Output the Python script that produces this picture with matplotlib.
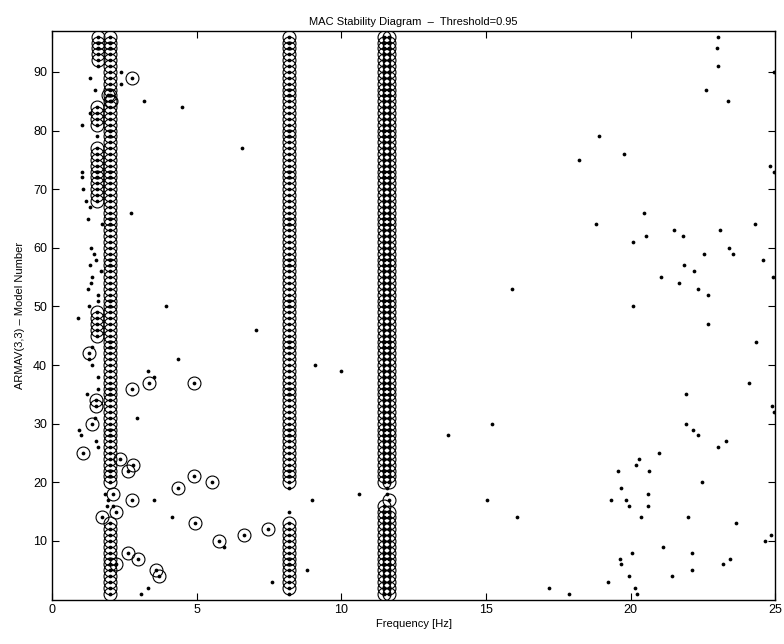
import matplotlib
matplotlib.use("Agg")
import matplotlib.pyplot as plt

plt.rcParams['font.family'] = ['Liberation Sans', 'DejaVu Sans']

# ---- data: poles that did not meet the MAC threshold (dot only) ----
unstable_freq = [
    2.40, 1.31, 2.39, 1.48, 3.18, 4.50, 1.31, 1.05, 1.55, 6.56, 1.04, 1.04, 1.06, 1.17,
    1.30, 2.73, 1.25, 1.73, 1.34, 1.44, 1.52, 1.33, 1.70, 1.37, 1.34, 1.25, 1.58, 1.58,
    1.29, 3.93, 0.91, 7.05, 1.37, 1.29, 4.35, 1.37, 9.10, 3.33, 9.99, 1.58, 3.54, 1.58,
    1.22, 1.49, 2.93, 0.95, 1.00, 13.70, 1.52, 1.58, 15.21, 10.61, 1.83, 1.95, 9.00,
    15.05, 3.53, 1.89, 2.10, 8.18, 16.07, 4.16, 5.93, 8.80, 7.59, 3.31, 3.08, 1.58,
    8.18, 8.18, 11.57, 11.57,
    23.02, 22.99, 23.02, 24.94, 22.60, 23.35, 18.92, 19.77, 18.20, 24.80, 24.94, 20.45,
    18.79, 24.28, 21.48, 23.08, 20.53, 21.80, 20.08, 23.39, 22.53, 23.54, 24.57, 21.83,
    22.20, 21.04, 24.91, 21.68, 15.90, 22.32, 22.68, 20.08, 22.66,
    24.33, 24.10, 21.91, 24.87, 24.94, 21.91, 22.17, 22.32, 23.01, 23.31, 20.99, 20.28,
    20.18, 19.56, 20.62, 22.47, 19.65, 20.59, 19.33, 19.85, 19.94, 20.59, 20.36, 21.98,
    23.64, 24.84, 24.64, 21.10, 20.04, 22.11, 19.62, 23.43, 19.65, 23.18, 19.94, 21.44,
    22.11, 19.22, 20.14, 17.17, 17.86, 20.23,
]
unstable_model = [
    90, 89, 88, 87, 85, 84, 83, 81, 79, 77, 73, 72, 70, 68,
    67, 66, 65, 64, 60, 59, 58, 57, 56, 55, 54, 53, 52, 51,
    50, 50, 48, 46, 43, 41, 41, 40, 40, 39, 39, 38, 38, 36,
    35, 31, 31, 29, 28, 28, 27, 26, 30, 18, 18, 17, 17,
    17, 17, 16, 16, 15, 14, 14, 9, 5, 3, 2, 1, 91,
    19, 1, 19, 18,
    96, 94, 91, 90, 87, 85, 79, 76, 75, 74, 73, 66,
    64, 64, 63, 63, 62, 62, 61, 60, 59, 59, 58, 57,
    56, 55, 55, 54, 53, 53, 52, 50, 47,
    44, 37, 35, 33, 32, 30, 29, 28, 26, 27, 25, 24,
    23, 22, 22, 20, 19, 18, 17, 17, 16, 16, 14, 14,
    13, 11, 10, 9, 8, 8, 7, 7, 6, 6, 4, 4,
    5, 3, 2, 2, 1, 1,
]

# ---- data: isolated stable poles (dot + circle) ----
stable_freq = [
    2.76, 1.28, 3.36, 4.91, 2.78, 1.52, 1.52, 1.39, 1.07, 2.36, 2.81, 2.62, 4.92, 5.54,
    4.37, 2.10, 2.78, 2.21, 1.72, 4.94, 7.45, 6.62, 5.78, 2.62, 2.99, 2.22, 3.58, 3.70,
    11.65, 11.47, 1.95, 2.05,
]
stable_model = [
    89, 42, 37, 37, 36, 34, 33, 30, 25, 24, 23, 22, 21, 20,
    19, 18, 17, 15, 14, 13, 12, 11, 10, 8, 7, 6, 5, 4,
    17, 16, 86, 85,
]

# ---- data: stable modes tracked over consecutive model numbers ----
run_freq = [2.00, 2.00, 1.58, 1.55, 1.55, 1.55, 8.18, 8.18, 11.49, 11.49, 11.65, 11.65]
run_first_model = [1, 20, 92, 81, 68, 45, 2, 20, 1, 20, 1, 20]
run_last_model = [13, 96, 96, 84, 77, 49, 13, 96, 15, 96, 15, 96]

x_ticks = [0, 5, 10, 15, 20, 25]
y_ticks = [10, 20, 30, 40, 50, 60, 70, 80, 90]

# expand runs
sf = list(stable_freq)
sm = list(stable_model)
for f, a, b in zip(run_freq, run_first_model, run_last_model):
    for m in range(a, b + 1):
        sf.append(f)
        sm.append(m)

fig = plt.figure(figsize=(7.84, 6.44), dpi=100)
ax = fig.add_axes([0.0663, 0.069, 0.9227, 0.883])

ax.plot(unstable_freq, unstable_model, linestyle='none', marker='o',
        markersize=2.7, color='black', markeredgewidth=0)
ax.plot(sf, sm, linestyle='none', marker='o', markersize=2.7,
        color='black', markeredgewidth=0)
ax.plot(sf, sm, linestyle='none', marker='o', markersize=9.3,
        markerfacecolor='none', markeredgecolor='black', markeredgewidth=0.8)

ax.set_xlim(0, 25)
ax.set_ylim(0, 97)
ax.set_xticks(x_ticks)
ax.set_yticks(y_ticks)
ax.tick_params(direction='in', length=5, width=0.8, top=True, right=True,
               labelsize=9)
for s in ax.spines.values():
    s.set_linewidth(1.0)

ax.set_title('MAC Stability Diagram  \u2013  Threshold=0.95', fontsize=8, pad=4)
ax.set_xlabel('Frequency [Hz]', fontsize=8, labelpad=2)
ax.set_ylabel('ARMAV(3,3) \u2013 Model Number', fontsize=8, labelpad=6)

fig.savefig('out.png', dpi=100)
